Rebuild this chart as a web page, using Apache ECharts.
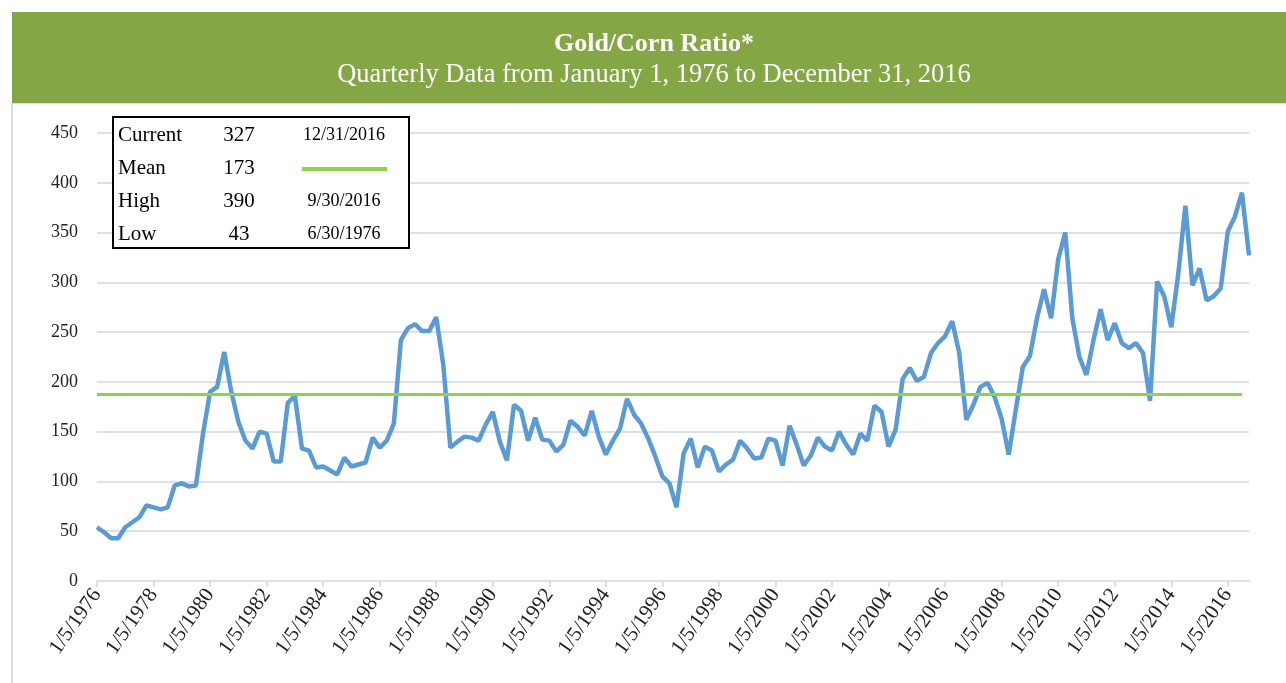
<!DOCTYPE html>
<html lang="en">
<head>
    <meta charset="UTF-8">
    <title>Gold/Corn Ratio</title>
    <style>
        html, body {margin: 0; padding: 0; background: #fff;}
        #chart {width: 1286px; height: 683px;}
    </style>
</head>
<body>
<div id="chart"></div>
<script src="https://cdn.jsdelivr.net/npm/echarts@6/dist/echarts.min.js"></script>
<script type="text/javascript">
    // quarterly gold/corn ratio, 1976 Q1 .. 2016 Q4
    var firstYear = 1976, lastYear = 2016;
    var quarterMonths = [1, 4, 7, 10];
    var ratio = [
        54, 49, 43, 43, 54, 59, 64, 76, 74, 72, 74, 96, 98, 95, 96, 148,
        190, 195, 230, 190, 160, 141, 133, 150, 148, 120, 120, 179, 186, 133, 131, 114,
        115, 111, 107, 124, 115, 117, 119, 144, 134, 141, 158, 242, 254, 258, 251, 251,
        265, 217, 134, 140, 145, 144, 141, 157, 170, 140, 121, 177, 171, 141, 164, 142,
        141, 130, 137, 161, 155, 146, 171, 145, 127, 141, 153, 183, 167, 158, 143, 125,
        105, 98, 74, 128, 143, 114, 135, 131, 110, 117, 122, 141, 133, 123, 124, 143,
        141, 116, 156, 137, 116, 126, 144, 135, 131, 150, 137, 127, 148, 141, 176, 170,
        135, 152, 203, 214, 201, 205, 229, 239, 246, 261, 229, 162, 177, 195, 199, 185,
        163, 127, 172, 215, 226, 264, 293, 264, 323, 350, 264, 225, 207, 242, 273, 242,
        259, 239, 234, 239, 229, 181, 301, 286, 255, 309, 377, 297, 314, 282, 286, 294,
        351, 366, 390, 327
    ];
    var meanLine = 188;

    var tableLabels = ['Current', 'Mean', 'High', 'Low'];
    var tableValues = ['327', '173', '390', '43'];
    var tableDates = ['12/31/2016', '', '9/30/2016', '6/30/1976'];

    var categories = [];
    for (var y = firstYear; y <= lastYear; y++) {
        for (var q = 0; q < quarterMonths.length; q++) {
            categories.push(quarterMonths[q] + '/5/' + y);
        }
    }

    var serif = '"Liberation Serif", "DejaVu Serif", serif';
    var blue = '#5B9BD5', green = '#92D050', gridColor = '#DCE0E9';

    // legend table drawn as graphic
    var table = [];
    table.push({
        type: 'rect', shape: {x: 113, y: 117, width: 296, height: 131},
        style: {fill: '#fff', stroke: '#000', lineWidth: 2}, z: 10
    });
    for (var i = 0; i < tableLabels.length; i++) {
        var cy = 135 + i * 33;
        table.push({type: 'text', x: 118, y: cy, z: 11,
            style: {text: tableLabels[i], font: '21px ' + serif, fill: '#000', verticalAlign: 'middle'}});
        table.push({type: 'text', x: 239, y: cy, z: 11,
            style: {text: tableValues[i], font: '21px ' + serif, fill: '#000', align: 'center', verticalAlign: 'middle'}});
        if (tableDates[i]) {
            table.push({type: 'text', x: 344, y: cy, z: 11,
                style: {text: tableDates[i], font: '18px ' + serif, fill: '#000', align: 'center', verticalAlign: 'middle'}});
        } else {
            table.push({type: 'line', z: 11, shape: {x1: 302, y1: cy + 1, x2: 387, y2: cy + 1},
                style: {stroke: green, lineWidth: 4}});
        }
    }

    var graphics = [
        {type: 'rect', shape: {x: 12, y: 103, width: 1290, height: 600},
            style: {fill: 'none', stroke: '#D9DEE8', lineWidth: 2}, z: -1},
        {type: 'rect', shape: {x: 12, y: 12, width: 1290, height: 91},
            style: {fill: '#84A645'}, z: 0},
        {type: 'text', x: 654, y: 44, z: 1,
            style: {text: 'Gold/Corn Ratio*', font: 'bold 26px ' + serif, fill: '#fff', align: 'center', verticalAlign: 'middle'}},
        {type: 'text', x: 654, y: 75, z: 1,
            style: {text: 'Quarterly Data from January 1, 1976 to December 31, 2016', font: '26.5px ' + serif, fill: '#fff', align: 'center', verticalAlign: 'middle'}}
    ].concat(table);

    var myChart = echarts.init(document.getElementById('chart'), null, {renderer: 'canvas'});
    var option = {
        animation: false,
        backgroundColor: '#fff',
        grid: {left: 97, right: 37, top: 133, bottom: 102, containLabel: false},
        xAxis: {
            type: 'category',
            data: categories,
            boundaryGap: false,
            axisLine: {lineStyle: {color: gridColor, width: 2}},
            axisTick: {show: true, interval: 7, length: 6, lineStyle: {color: gridColor, width: 2}},
            axisLabel: {
                interval: 7, rotate: 55, margin: 10,
                fontFamily: serif, fontSize: 21, color: '#222'
            },
            splitLine: {show: false}
        },
        yAxis: {
            type: 'value',
            min: 0, max: 450, interval: 50,
            axisLine: {show: false},
            axisTick: {show: false},
            axisLabel: {fontFamily: serif, fontSize: 18, color: '#222', margin: 19},
            splitLine: {lineStyle: {color: gridColor, width: 2}}
        },
        graphic: graphics,
        series: [{
            name: 'Gold/Corn Ratio',
            type: 'line',
            data: ratio,
            showSymbol: false,
            lineStyle: {color: blue, width: 4.5},
            z: 3,
            markLine: {
                silent: true,
                symbol: 'none',
                label: {show: false},
                lineStyle: {color: green, width: 3, type: 'solid'},
                data: [[
                    {coord: [0, meanLine]},
                    {coord: [categories.length - 2, meanLine]}
                ]]
            }
        }]
    };
    myChart.setOption(option);
</script>
</body>
</html>
